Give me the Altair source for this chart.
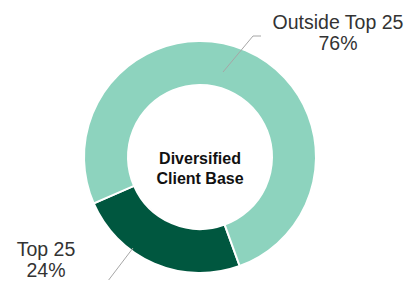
import math
import altair as alt
import pandas as pd

categories = ["Top 25", "Outside Top 25"]
shares = [24, 76]
colors = ["#00573F", "#8DD3BE"]
center_title = ["Diversified", "Client Base"]

df = pd.DataFrame({
    "segment": categories,
    "share": shares,
    "idx": list(range(len(categories))),
    "label": [f"{c}\n{v}%" for c, v in zip(categories, shares)],
})

start = math.radians(160)
CX, CY = 192, 149

base = alt.Chart(df)

arcs = base.mark_arc(radius=116, radius2=72, stroke="white", strokeWidth=2).encode(
    theta=alt.Theta("share:Q", stack=True, scale=alt.Scale(range=[start, start + 2 * math.pi])),
    color=alt.Color("segment:N", scale=alt.Scale(domain=categories, range=colors), legend=None),
    order=alt.Order("idx:Q"),
    x=alt.value(CX),
    y=alt.value(CY),
)

center = alt.Chart(pd.DataFrame({"t": ["\n".join(center_title)]})).mark_text(
    font="Liberation Sans", fontSize=16, fontWeight="bold", color="#111111",
    lineBreak="\n", lineHeight=20, align="center", baseline="middle",
).encode(text="t:N", x=alt.value(CX), y=alt.value(CY + 2))

lab_out = alt.Chart(df[df.segment == "Outside Top 25"]).mark_text(
    font="Liberation Sans", fontSize=19.5, color="#333333", lineBreak="\n",
    lineHeight=21, align="center", baseline="alphabetic",
).encode(text="label:N", x=alt.value(330), y=alt.value(21))

lab_top = alt.Chart(df[df.segment == "Top 25"]).mark_text(
    font="Liberation Sans", fontSize=19.5, color="#333333", lineBreak="\n",
    lineHeight=21, align="center", baseline="alphabetic",
).encode(text="label:N", x=alt.value(38), y=alt.value(248))

rule_style = dict(color="#A6A6A6", strokeWidth=1)
r1 = alt.Chart(df.head(1)).mark_rule(**rule_style).encode(
    x=alt.value(215), y=alt.value(64), x2=alt.value(245), y2=alt.value(28))
r2 = alt.Chart(df.head(1)).mark_rule(**rule_style).encode(
    x=alt.value(245), y=alt.value(28), x2=alt.value(253), y2=alt.value(28))
r3 = alt.Chart(df.head(1)).mark_rule(**rule_style).encode(
    x=alt.value(125), y=alt.value(240), x2=alt.value(90), y2=alt.value(286))

chart = alt.layer(arcs, r1, r2, r3, center, lab_out, lab_top).properties(
    width=399, height=272, padding=0, autosize=alt.AutoSizeParams(type="none"),
).configure_view(stroke=None)

chart.save("out.html", embed_options={"renderer": "svg", "actions": False})
